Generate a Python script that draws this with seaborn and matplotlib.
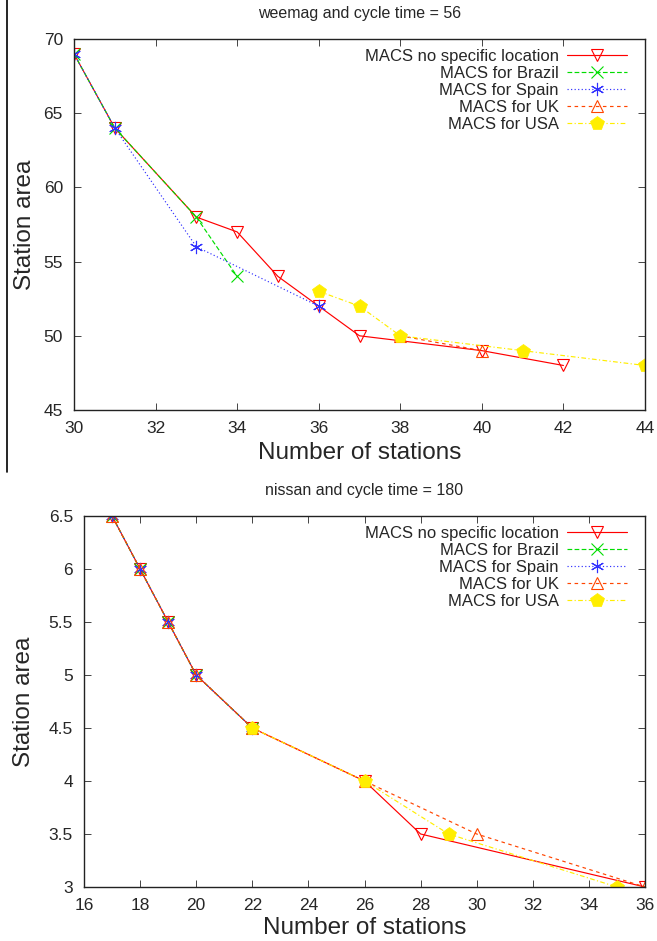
import matplotlib
matplotlib.use("Agg")
import matplotlib.pyplot as plt
import seaborn as sns
from matplotlib.lines import Line2D

sns.set_style("ticks")
plt.rcParams['font.family'] = ['Liberation Sans', 'DejaVu Sans']

# ---- Top panel data (weemag, cycle time 56) ----
top_none_x = [30, 31, 33, 34, 35, 36, 37, 40, 42]
top_none_y = [69, 64, 58, 57, 54, 52, 50, 49, 48]
top_brazil_x = [30, 31, 33, 34]
top_brazil_y = [69, 64, 58, 54]
top_spain_x = [30, 31, 33, 36]
top_spain_y = [69, 64, 56, 52]
top_uk_x = [38, 40]
top_uk_y = [50, 49]
top_usa_x = [36, 37, 38, 41, 44]
top_usa_y = [53, 52, 50, 49, 48]

# ---- Bottom panel data (nissan, cycle time 180) ----
bot_none_x = [17, 18, 19, 20, 22, 26, 28, 36]
bot_none_y = [6.5, 6.0, 5.5, 5.0, 4.5, 4.0, 3.5, 3.0]
bot_brazil_x = [17, 18, 19, 20, 22]
bot_brazil_y = [6.5, 6.0, 5.5, 5.0, 4.5]
bot_spain_x = [17, 18, 19, 20, 22]
bot_spain_y = [6.5, 6.0, 5.5, 5.0, 4.5]
bot_uk_x = [17, 18, 19, 20, 22, 26, 30, 36]
bot_uk_y = [6.5, 6.0, 5.5, 5.0, 4.5, 4.0, 3.5, 3.0]
bot_usa_x = [22, 26, 29, 35]
bot_usa_y = [4.5, 4.0, 3.5, 3.0]

labels = ["MACS no specific location", "MACS for Brazil", "MACS for Spain",
          "MACS for UK", "MACS for USA"]

styles = [
    dict(color="#ff0000", linestyle="-", marker="v", mfc="none", mec="#ff0000", ms=8.5, mew=0.8),
    dict(color="#00dd00", linestyle=(0, (4, 2)), marker="x", mec="#00dd00", ms=8, mew=0.8),
    dict(color="#3030ff", linestyle=(0, (1, 2)), marker=(6, 2, 0), mec="#3030ff", ms=9.5, mew=0.8),
    dict(color="#ff4500", linestyle=(0, (3, 3)), marker="^", mfc="none", mec="#ff4500", ms=8.5, mew=0.8),
    dict(color="#ffee00", linestyle=(0, (4, 2, 1, 2)), marker="p", mfc="#ffee00", mec="#ffee00", ms=10, mew=0.5),
]

fig = plt.figure(figsize=(6.57, 9.41), dpi=100)
ax1 = fig.add_axes([74/657, 1-410/941, (645-74)/657, (410-39)/941])
ax2 = fig.add_axes([84/657, 1-887/941, (645-84)/657, (887-516)/941])

def draw(ax, series):
    for (xs, ys), st, lab in zip(series, styles, labels):
        sns.lineplot(x=xs, y=ys, ax=ax, label=lab, lw=0.85, sort=False,
                     estimator=None, **st)

draw(ax1, [(top_none_x, top_none_y), (top_brazil_x, top_brazil_y),
           (top_spain_x, top_spain_y), (top_uk_x, top_uk_y),
           (top_usa_x, top_usa_y)])
draw(ax2, [(bot_none_x, bot_none_y), (bot_brazil_x, bot_brazil_y),
           (bot_spain_x, bot_spain_y), (bot_uk_x, bot_uk_y),
           (bot_usa_x, bot_usa_y)])

ax1.set_xlim(30, 44)
ax1.set_ylim(45, 70)
ax1.set_xticks(list(range(30, 45, 2)))
ax1.set_yticks(list(range(45, 71, 5)))
ax2.set_xlim(16, 36)
ax2.set_ylim(3, 6.5)
ax2.set_xticks(list(range(16, 37, 2)))
ax2.set_yticks([3, 3.5, 4, 4.5, 5, 5.5, 6, 6.5])
ax2.set_yticklabels(["3", "3.5", "4", "4.5", "5", "5.5", "6", "6.5"])

for ax, title, ylx, xly, anch in [
        (ax1, "weemag and cycle time = 56", -0.067, -0.087, (0.98, 0.992)),
        (ax2, "nissan and cycle time = 180", -0.087, -0.080, (0.98, 0.992))]:
    ax.set_title(title, fontsize=11.5, pad=15)
    ax.set_xlabel("Number of stations", fontsize=17.5)
    ax.set_ylabel("Station area", fontsize=17.5)
    ax.yaxis.set_label_coords(ylx, 0.5)
    ax.xaxis.set_label_coords(0.5, xly)
    ax.tick_params(direction="in", top=True, right=True, labelsize=12.5,
                   length=5, width=0.6, pad=8)
    for s in ax.spines.values():
        s.set_linewidth(1.0)
        s.set_color("#222222")
    leg = ax.legend(loc="upper right", bbox_to_anchor=anch, frameon=False,
                    markerfirst=False, fontsize=12, handlelength=3.6,
                    labelspacing=0.12, borderaxespad=0.0, handletextpad=0.5)
    for t in leg.get_texts():
        t.set_ha("right")
    leg._legend_box.align = "right"

# page border line at left
fig.add_artist(Line2D([7/657, 7/657], [1, 1-472/941], color="black", lw=1.2))

fig.savefig("out.png", dpi=100)
